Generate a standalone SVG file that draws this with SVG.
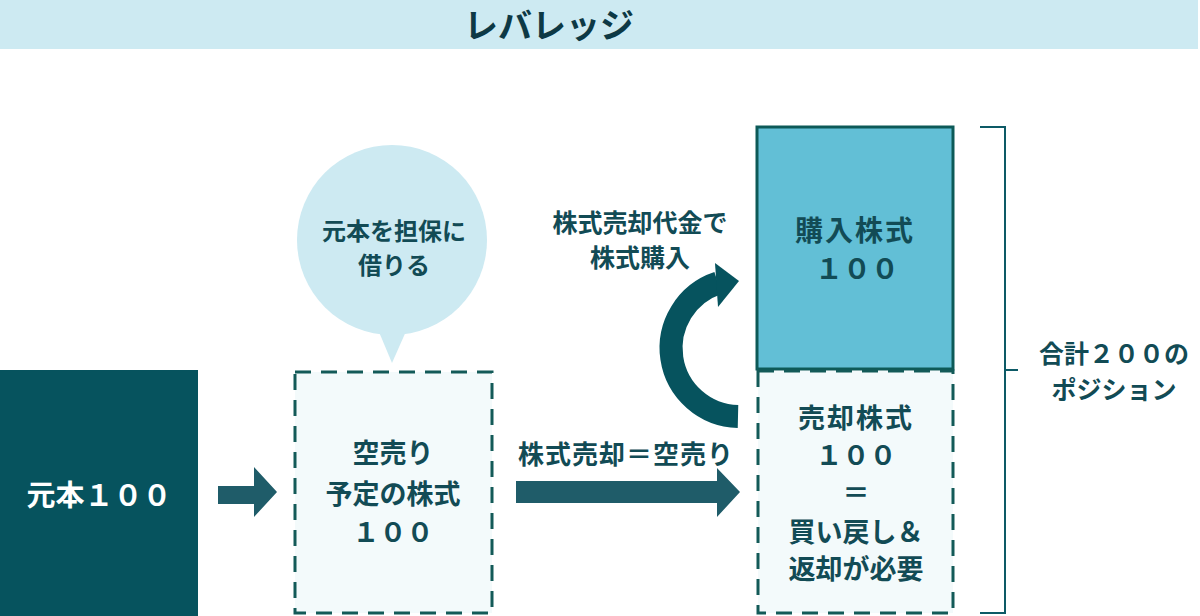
<svg xmlns="http://www.w3.org/2000/svg" width="1200" height="616" viewBox="0 0 1200 616">
<style>
  .t { font-family: "Noto Sans CJK JP", "Noto Sans", sans-serif; font-weight: 700; fill: #124b55; text-anchor: middle; dominant-baseline: central; }
  .dash { fill: #f3fafb; stroke: #135a58; stroke-width: 3; stroke-dasharray: 16 10; }
  .arrow { fill: #1f5c69; }
</style>
<rect width="1200" height="616" fill="#ffffff"/>
<g id="header">
  <rect x="0" y="0" width="1198" height="49" fill="#cdeaf2"/>
  <text class="t" x="549" y="23" font-size="34" style="fill:#0d3945">レバレッジ</text>
</g>
<g id="principal">
  <rect x="0" y="370" width="198" height="246" fill="#06535e"/>
  <text class="t" x="99" y="493" font-size="29" style="fill:#ffffff">元本１００</text>
</g>
<g id="bubble">
  <circle cx="392" cy="240" r="95" fill="#cdeaf2"/>
  <polygon points="374,320 411,320 392,363" fill="#cdeaf2"/>
  <text class="t" x="394" y="229" font-size="24">元本を担保に</text>
  <text class="t" x="394" y="263" font-size="24">借りる</text>
</g>
<g id="shortsale">
  <rect class="dash" x="295" y="372" width="197" height="241"/>
  <text class="t" x="393" y="451" font-size="27">空売り</text>
  <text class="t" x="393" y="492" font-size="27">予定の株式</text>
  <text class="t" x="393" y="530" font-size="27">１００</text>
</g>
<g id="bought">
  <rect x="757" y="127" width="196" height="242" fill="#62bfd6" stroke="#0d5a58" stroke-width="3"/>
  <text class="t" x="855" y="229" font-size="28" letter-spacing="2">購入株式</text>
  <text class="t" x="857" y="267" font-size="28">１００</text>
</g>
<g id="sold">
  <rect class="dash" x="758" y="371" width="195" height="242"/>
  <text class="t" x="856" y="416" font-size="27" letter-spacing="2">売却株式</text>
  <text class="t" x="856" y="453" font-size="27">１００</text>
  <text class="t" x="856" y="491" font-size="27">＝</text>
  <text class="t" x="856" y="530" font-size="27">買い戻し＆</text>
  <text class="t" x="856" y="567" font-size="27">返却が必要</text>
</g>
<g id="total">
  <path d="M980 127 H1005 V613 H980 M1005 370 H1018" fill="none" stroke="#0d5a66" stroke-width="2"/>
  <text class="t" x="1114" y="352" font-size="25">合計２００の</text>
  <text class="t" x="1114" y="388" font-size="25">ポジション</text>
</g>
<g id="connectors">
  <polygon class="arrow" points="218,486 254,486 254,467 277,492 254,517 254,504 218,504"/>
  <polygon class="arrow" points="516,481 717,481 717,468 740,492 717,517 717,503 516,503"/>
  <text class="t" x="626" y="452" font-size="26" letter-spacing="1">株式売却＝空売り</text>
  <path d="M738 416.5 A68.5 68.5 0 0 1 718 283" fill="none" stroke="#06535e" stroke-width="23"/>
  <polygon points="715,263 739,281 718,307" fill="#06535e"/>
  <text class="t" x="640" y="221" font-size="25">株式売却代金で</text>
  <text class="t" x="640" y="256" font-size="25">株式購入</text>
</g>
</svg>
